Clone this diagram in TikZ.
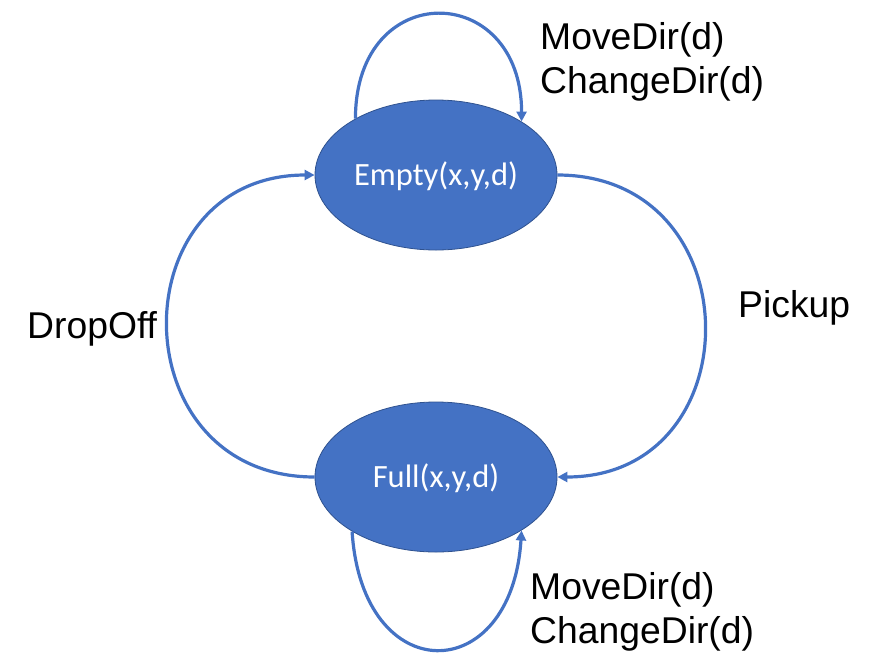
\documentclass[tikz,border=0pt]{standalone}
\usepackage{fontspec}
\setmainfont{Liberation Sans}
\newfontfamily\nodefont{Carlito}
\usetikzlibrary{arrows.meta,shapes.geometric}
\definecolor{officeblue}{HTML}{4472C4}
\definecolor{borderblue}{HTML}{2F528F}
\tikzset{
  statenode/.style={ellipse, draw=borderblue, line width=0.8pt, fill=officeblue,
    minimum width=242pt, minimum height=150pt, inner sep=0pt,
    text=white, font=\nodefont\fontsize{32.5}{38}\selectfont,
    text height=29pt, text depth=7.5pt},
  trans/.style={draw=officeblue, line width=3.2pt, -{Triangle[length=10pt,width=10pt]}},
  lbl/.style={inner sep=0pt, font=\fontsize{37.3}{44}\selectfont, align=left}
}
\begin{document}
\begin{tikzpicture}[x=1pt,y=-1pt]
\useasboundingbox (0,0) rectangle (870,670);
\node[statenode] (E) at (436,175) {Empty(x,y,d)};
\node[statenode] (F) at (436,477) {Full(x,y,d)};
% Pickup (right)
\draw[trans] (E.east) .. controls +(196,0) and +(196,0) .. (F.east);
% DropOff (left)
\draw[trans] (F.west) .. controls +(-196,0) and +(-196,0) .. (E.west);
% self loops
\draw[trans] (E.145.8) .. controls +(0,-141) and +(0,-141) .. (E.32);
\draw[trans] (F.213) .. controls +(10,158) and +(-10,158) .. (F.328.7);
% labels
\node[lbl, anchor=north west] (lt) at (540,22) {MoveDir(d)\\ChangeDir(d)};
\node[lbl, anchor=north west] (lb) at (530,572) {MoveDir(d)\\ChangeDir(d)};
\node[lbl, anchor=base west] (ld) at (27,338) {DropOff};
\node[lbl, anchor=base west] (lp) at (738,317) {Pickup};
\end{tikzpicture}
\end{document}
